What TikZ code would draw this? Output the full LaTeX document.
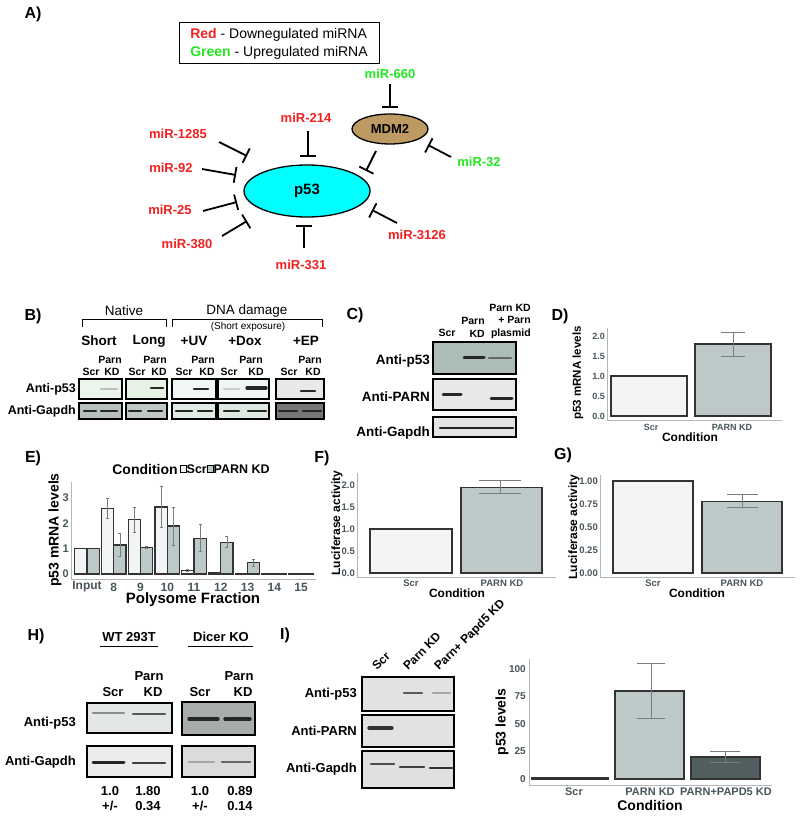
\documentclass[tikz,border=0pt]{standalone}
\usepackage{fontspec}
\setmainfont{Liberation Sans}
\usetikzlibrary{arrows.meta,shapes.geometric}
\newcommand\fsz[1]{\fontsize{#1}{#1}\selectfont}
\definecolor{mirred}{RGB}{242,32,32}
\definecolor{mirgreen}{RGB}{34,232,34}
\definecolor{pcyan}{RGB}{0,255,255}
\definecolor{mdmbrown}{RGB}{189,154,98}
\definecolor{scrfill}{RGB}{242,244,245}
\definecolor{kdfill}{RGB}{189,201,200}
\definecolor{dkfill}{RGB}{80,94,96}
\definecolor{axgray}{RGB}{178,184,184}
\definecolor{ticktxt}{RGB}{72,86,92}
\definecolor{errgray}{RGB}{120,126,126}
\begin{document}
\begin{tikzpicture}[x=1pt,y=-1pt,
    panel/.style={font=\fsz{16}\bfseries},
    mr/.style={text=mirred, font=\fsz{13}\bfseries},
    mg/.style={text=mirgreen, font=\fsz{13}\bfseries},
    inh/.style={-{Bar[width=16pt]}, line width=1.8pt},
    blot/.style={draw, line width=1.3pt},
    band/.style={line width=2.6pt, line cap=round, black!85},
    hd/.style={font=\fsz{10.5}\bfseries, inner sep=0pt},
    hh/.style={font=\fsz{13}\bfseries, inner sep=0pt},
    ab/.style={font=\fsz{12.5}\bfseries, anchor=east, inner sep=0pt},
    axis/.style={axgray, line width=1pt},
    tk/.style={text=ticktxt, font=\fsz{9}\bfseries, anchor=east, inner sep=1pt},
    xt/.style={text=ticktxt, font=\fsz{9}\bfseries, inner sep=0pt},
    bar/.style={draw=black!80, line width=1.3pt},
    err/.style={errgray, line width=0.8pt},
    ttl/.style={font=\fsz{12}\bfseries, inner sep=0pt}]

    \useasboundingbox[fill=white] (0,0) rectangle (800,821);

    % A) miRNA network
    \node[panel] (pa) at (33,14) {A)};
    \node[draw, line width=1pt, minimum width=200, minimum height=41, align=left,
        font=\fontsize{14}{18}\selectfont] (key) at (279,43.5)
        {\textcolor{mirred}{\bfseries Red} - Downegulated miRNA\\\textcolor{mirgreen}{\bfseries Green} - Upregulated miRNA};

    \node[ellipse, draw, line width=1.3pt, fill=pcyan, minimum width=126, minimum height=52,
        font=\fsz{15}\bfseries] (p53) at (307,191) {p53};
    \node[ellipse, draw, line width=1.3pt, fill=mdmbrown, minimum width=76, minimum height=30,
        font=\fsz{13}\bfseries] (mdm2) at (390,129) {MDM2};

    \node[mg] (m660) at (390,74) {miR-660};
    \node[mg] (m32) at (479,162) {miR-32};
    \node[mr] (m214) at (306,118) {miR-214};
    \node[mr] (m1285) at (178,134) {miR-1285};
    \node[mr] (m92) at (171,168) {miR-92};
    \node[mr] (m25) at (170,210) {miR-25};
    \node[mr] (m380) at (187,244) {miR-380};
    \node[mr] (m331) at (301,265) {miR-331};
    \node[mr] (m3126) at (417,235) {miR-3126};

    \coordinate (s660) at (390,84);   \coordinate (e660) at (390,108);
    \coordinate (s32) at (451,157);   \coordinate (e32) at (428,145);
    \coordinate (smdm) at (376,151);  \coordinate (emdm) at (366,171);
    \coordinate (s214) at (308,131);  \coordinate (e214) at (308,157);
    \coordinate (s1285) at (219,142); \coordinate (e1285) at (247,156);
    \coordinate (s92) at (202,169);   \coordinate (e92) at (236,175);
    \coordinate (s25) at (203,211);   \coordinate (e25) at (237,202);
    \coordinate (s380) at (222,236);  \coordinate (e380) at (247,221);
    \coordinate (s331) at (304,248);  \coordinate (e331) at (304,225);
    \coordinate (s3126) at (397,223); \coordinate (e3126) at (372,210);

    \foreach \m in {660,32,mdm,214,1285,92,25,380,331,3126}
        \draw[inh] (s\m) -- (e\m);

    % B) western blots
    \node[panel] (pb) at (33,316) {B)};
    \node[font=\fsz{13.5}] (native) at (124,311) {Native};
    \node[font=\fsz{13.5}] (dna) at (247,311) {DNA damage};
    \node[font=\fsz{10}, inner sep=0pt] (expo) at (248,327) {(Short exposure)};
    \draw[line width=1pt] (82,327) -- (82,319) -- (166,319) -- (166,327);
    \draw[line width=1pt] (172,327) -- (172,319) -- (322,319) -- (322,327);

    \node[hh, font=\fsz{13.5}\bfseries] (tshort) at (99,341) {Short};
    \node[hh, font=\fsz{13.5}\bfseries] (tlong) at (149,341) {Long};
    \node[hh, font=\fsz{13.5}\bfseries] (tuv) at (194,341) {+UV};
    \node[hh, font=\fsz{13.5}\bfseries] (tdox) at (245,341) {+Dox};
    \node[hh, font=\fsz{13.5}\bfseries] (tep) at (306,341) {+EP};

    \foreach \s/\k/\p in {91/112/110, 137/159/155, 184/207/203, 229/256/251, 289/313/310}{
        \node[hd] at (\p,360) {Parn};
        \node[hd] at (\s,372) {Scr};
        \node[hd] at (\k,372) {KD};
    }

    \node[ab] (bp53) at (76,389) {Anti-p53};
    \node[ab] (bgap) at (76,411) {Anti-Gapdh};

    \draw[blot, fill={rgb,255:red,236;green,245;blue,236}] (79,379) rectangle (122,399);
    \draw[blot, fill={rgb,255:red,230;green,242;blue,228}] (126,379) rectangle (167,399);
    \draw[blot, fill={rgb,255:red,242;green,248;blue,244}] (172,379) rectangle (216,399);
    \draw[blot, fill={rgb,255:red,240;green,245;blue,245}] (218,379) rectangle (269,399);
    \draw[blot, fill={rgb,255:red,232;green,232;blue,232}] (276,379) rectangle (324,399);
    \draw[blot, fill={rgb,255:red,184;green,192;blue,188}] (79,403) rectangle (122,419);
    \draw[blot, fill={rgb,255:red,192;green,200;blue,196}] (126,403) rectangle (167,419);
    \draw[blot, fill={rgb,255:red,224;green,235;blue,228}] (172,403) rectangle (216,419);
    \draw[blot, fill={rgb,255:red,221;green,232;blue,224}] (218,403) rectangle (269,419);
    \draw[blot, fill={rgb,255:red,118;green,118;blue,118}] (276,403) rectangle (324,419);

    \draw[band, black!25] (101,389) -- (117,389);
    \draw[band] (151,388) -- (163,388);
    \draw[band] (194,389) -- (208,389);
    \draw[band, black!20] (224,389) -- (239,389);
    \draw[band, line width=3.2pt] (247,388) -- (266,388);
    \draw[band] (301,391) -- (315,391);
    \foreach \a/\b in {84/96, 101/117, 129/141, 148/162, 176/192, 198/212, 224/239, 248/266, 279/297, 303/321}
        \draw[band, line width=2.2pt] (\a,411) -- (\b,411);

    % C) rescue blot
    \node[panel] (pc) at (355,315) {C)};
    \node[hd] at (447,333) {Scr};
    \node[hd, align=right, font=\fontsize{10.5}{12.5}\selectfont\bfseries] at (473,327.5) {Parn\\KD};
    \node[hd, align=right, font=\fontsize{10.5}{12.5}\selectfont\bfseries] at (510,321) {Parn KD\\+ Parn\\plasmid};

    \node[ab, font=\fsz{13.5}\bfseries] (cp53) at (430,361) {Anti-p53};
    \node[ab, font=\fsz{13.5}\bfseries] (cparn) at (430,397) {Anti-PARN};
    \node[ab, font=\fsz{13.5}\bfseries] (cgap) at (430,433) {Anti-Gapdh};

    \draw[blot, fill={rgb,255:red,172;green,188;blue,184}] (433,342) rectangle (516,374);
    \draw[blot, fill={rgb,255:red,232;green,232;blue,232}] (433,379) rectangle (516,410);
    \draw[blot, fill={rgb,255:red,228;green,228;blue,228}] (433,417) rectangle (516,437);
    \draw[band, line width=3pt] (464,357) -- (484,357);
    \draw[band, black!60] (489,358) -- (511,358);
    \draw[band, line width=3pt] (443,394) -- (461,394);
    \draw[band, line width=3pt] (491,398) -- (512,398);
    \draw[band, line width=2.2pt] (440,428) -- (513,428);

    % D) p53 mRNA
    \node[panel] (pd) at (560,316) {D)};
    \draw[axis] (607,328) -- (607,420) -- (782,420);
    \foreach \v in {0.0,0.5,1.0,1.5,2.0}
        \node[tk] at (606,416-40*\v) {\v};
    \draw[bar, fill=scrfill] (611,416) rectangle (687,376);
    \draw[bar, fill=kdfill] (695,416) rectangle (771,344);
    \draw[err] (733,356) -- (733,332);
    \draw[err] (721,356) -- (745,356);
    \draw[err] (721,332) -- (745,332);
    \node[xt] at (651,427) {Scr};
    \node[xt] at (732,427) {PARN KD};
    \node[ttl] at (690,437) {Condition};
    \node[ttl, font=\fsz{11.5}\bfseries, rotate=90] at (578,373) {p53 mRNA levels};

    % E) polysome fractions
    \node[panel] (pe) at (33,458) {E)};
    \node[ttl, font=\fsz{14}\bfseries] (econd) at (145,469) {Condition};
    \draw[line width=0.6pt, fill=scrfill] (180.5,465) rectangle (186,472);
    \node[ttl, font=\fsz{12.5}\bfseries, anchor=west] (escr) at (186.5,469) {Scr};
    \draw[line width=0.6pt, fill=kdfill] (207.5,465) rectangle (213,472);
    \node[ttl, font=\fsz{12.5}\bfseries, anchor=west] (ekd) at (213.5,469) {PARN KD};

    \draw[axis] (71,482) -- (71,579) -- (316,579);
    \foreach \v in {0,1,2,3}
        \node[tk, font=\fsz{11}\bfseries] at (70,574-25.3*\v) {\v};
    \foreach \c/\s/\k in {87/1/1, 113.75/2.6/1.15, 140.5/2.15/1.05, 167.25/2.65/1.9,
            194/0.15/1.4, 220.75/0.05/1.25, 247.5/0.02/0.45, 274.25/0.02/0.02, 301/0.01/0.01}{
        \draw[bar, fill=scrfill] (\c-12.3,574) rectangle (\c,574-25.3*\s);
        \draw[bar, fill=kdfill] (\c,574) rectangle (\c+12.3,574-25.3*\k);
    }
    \foreach \x/\lo/\hi in {107.6/2.2/3.0, 119.9/0.7/1.6, 134.35/1.65/2.65, 146.65/1.0/1.1,
            161.1/1.85/3.45, 173.4/1.15/2.65, 187.85/0.1/0.2, 200.15/0.9/1.95,
            226.9/1.05/1.5, 253.65/0.32/0.58}{
        \draw[err, line width=0.6pt] (\x,574-25.3*\lo) -- (\x,574-25.3*\hi);
        \draw[err, line width=0.6pt] (\x-1.5,574-25.3*\lo) -- (\x+1.5,574-25.3*\lo);
        \draw[err, line width=0.6pt] (\x-1.5,574-25.3*\hi) -- (\x+1.5,574-25.3*\hi);
    }
    \foreach \c/\t in {87/Input, 113.75/8, 140.5/9, 167.25/10, 194/11, 220.75/12, 247.5/13, 274.25/14, 301/15}
        \node[xt, font=\fsz{12}\bfseries] at (\c,587) {\t};
    \node[ttl, font=\fsz{15}\bfseries] at (193,600) {Polysome Fraction};
    \node[ttl, font=\fsz{14}\bfseries, rotate=90] at (55,530) {p53 mRNA levels};

    % F) luciferase
    \node[panel] (pf) at (322,458) {F)};
    \draw[axis] (357,473) -- (357,577) -- (556,577);
    \foreach \v in {0.0,0.5,1.0,1.5,2.0}
        \node[tk, font=\fsz{9.5}\bfseries] at (356,573-44*\v) {\v};
    \draw[bar, fill=scrfill] (370,573) rectangle (452,529);
    \draw[bar, fill=kdfill] (461,573) rectangle (542,487.2);
    \draw[err] (500,493.8) -- (500,480.6);
    \draw[err] (479,493.8) -- (521,493.8);
    \draw[err] (479,480.6) -- (521,480.6);
    \node[xt, font=\fsz{9.5}\bfseries] at (411,583) {Scr};
    \node[xt, font=\fsz{9.5}\bfseries] at (502,583) {PARN KD};
    \node[ttl] at (457,593) {Condition};
    \node[ttl, rotate=90] at (337,523) {Luciferase activity};

    % G) luciferase
    \node[panel] (pg) at (563,455) {G)};
    \draw[axis] (600,475) -- (600,577) -- (795,577);
    \foreach \v in {0.00,0.25,0.50,0.75,1.00}
        \node[tk, font=\fsz{9.5}\bfseries] at (599,573-92*\v) {\v};
    \draw[bar, fill=scrfill] (613,573) rectangle (693,481);
    \draw[bar, fill=kdfill] (702,573) rectangle (782,501.2);
    \draw[err] (742,507.7) -- (742,494.8);
    \draw[err] (727,507.7) -- (758,507.7);
    \draw[err] (727,494.8) -- (758,494.8);
    \node[xt, font=\fsz{9.5}\bfseries] at (653,583) {Scr};
    \node[xt, font=\fsz{9.5}\bfseries] at (742,583) {PARN KD};
    \node[ttl] at (697,593) {Condition};
    \node[ttl, rotate=90] at (574,527) {Luciferase activity};

    % H) Dicer KO blots
    \node[panel] (ph) at (36,636) {H)};
    \node[hh] (wt) at (129,637) {WT 293T};
    \node[hh] (dicer) at (221,637) {Dicer KO};
    \draw[line width=1pt] (100,646) -- (158,646);
    \draw[line width=1pt] (188,646) -- (253,646);
    \foreach \s/\k in {113/151, 200/241}{
        \node[hh] at (\k-2,676) {Parn};
        \node[hh] at (\s,692) {Scr};
        \node[hh] at (\k+2,692) {KD};
    }
    \node[ab, font=\fsz{13}\bfseries] (hp53) at (76,723) {Anti-p53};
    \node[ab, font=\fsz{13}\bfseries] (hgap) at (76,762) {Anti-Gapdh};
    \draw[blot, fill={rgb,255:red,228;green,232;blue,228}] (87,703) rectangle (172,733);
    \draw[blot, fill={rgb,255:red,169;green,173;blue,169}] (182,702) rectangle (255,735);
    \draw[blot, fill={rgb,255:red,234;green,237;blue,234}] (87,746) rectangle (172,777);
    \draw[blot, fill={rgb,255:red,218;green,220;blue,218}] (182,746) rectangle (255,777);
    \draw[band, black!45] (93,713) -- (124,713);
    \draw[band, black!65] (133,714) -- (165,714);
    \draw[band, line width=3.2pt] (189,719) -- (218,719);
    \draw[band, line width=3.2pt] (225,719) -- (250,719);
    \draw[band, line width=3pt] (93,762) -- (124,762);
    \draw[band, black!75] (133,763) -- (165,763);
    \draw[band, black!35] (189,762) -- (214,762);
    \draw[band, black!60] (222,762) -- (250,762);
    \foreach \x/\a/\b in {110/1.0/{+/-}, 148/1.80/0.34, 200/1.0/{+/-}, 240/0.89/0.14}{
        \node[hh] at (\x,791) {\a};
        \node[hh] at (\x,806) {\b};
    }

    % I) Papd5 blots and quantification
    \node[panel] (pi) at (285,635) {I)};
    \node[hh, font=\fsz{12}\bfseries, rotate=45, anchor=base west] at (377,671) {Scr};
    \node[hh, font=\fsz{12}\bfseries, rotate=45, anchor=base west] at (408,671) {Parn KD};
    \node[hh, font=\fsz{12}\bfseries, rotate=45, anchor=base west] at (439,671) {Parn+ Papd5 KD};
    \node[ab, font=\fsz{13}\bfseries] (ip53) at (357,694) {Anti-p53};
    \node[ab, font=\fsz{13}\bfseries] (iparn) at (357,731) {Anti-PARN};
    \node[ab, font=\fsz{13}\bfseries] (igap) at (357,769) {Anti-Gapdh};
    \draw[blot, fill={rgb,255:red,226;green,226;blue,226}] (362,677) rectangle (454,711);
    \draw[blot, fill={rgb,255:red,226;green,226;blue,226}] (362,715) rectangle (454,747);
    \draw[blot, fill={rgb,255:red,224;green,224;blue,224}] (362,751) rectangle (454,788);
    \draw[band, black!65] (404,693) -- (422,693);
    \draw[band, black!35] (433,693) -- (450,693);
    \draw[band, black!80, line width=3.2pt] (369,728) -- (392,728);
    \draw[band, black!70] (371,764) -- (394,764);
    \draw[band, black!75] (400,767) -- (424,767);
    \draw[band, black!80] (430,768) -- (452,768);

    \draw[axis] (529,659) -- (529,785) -- (772,785);
    \foreach \v in {0,25,50,75,100}
        \node[tk, font=\fsz{10}\bfseries] at (527,779-1.1*\v) {\v};
    \draw[bar, fill=black] (532,779) rectangle (608,777.5);
    \draw[bar, fill=kdfill] (615,779) rectangle (684,691);
    \draw[bar, fill=dkfill] (691,779) rectangle (760,757);
    \draw[err] (651,718.5) -- (651,663.5);
    \draw[err] (637,718.5) -- (665,718.5);
    \draw[err] (637,663.5) -- (665,663.5);
    \draw[err] (725,762.5) -- (725,751.5);
    \draw[err] (710,762.5) -- (740,762.5);
    \draw[err] (710,751.5) -- (740,751.5);
    \node[xt, font=\fsz{11}\bfseries] at (574,792) {Scr};
    \node[xt, font=\fsz{11}\bfseries] at (650,792) {PARN KD};
    \node[xt, font=\fsz{11}\bfseries] at (726,792) {PARN+PAPD5 KD};
    \node[ttl, font=\fsz{14}\bfseries] at (650,805) {Condition};
    \node[ttl, font=\fsz{14}\bfseries, rotate=90] at (502,722) {p53 levels};

\end{tikzpicture}
\end{document}
